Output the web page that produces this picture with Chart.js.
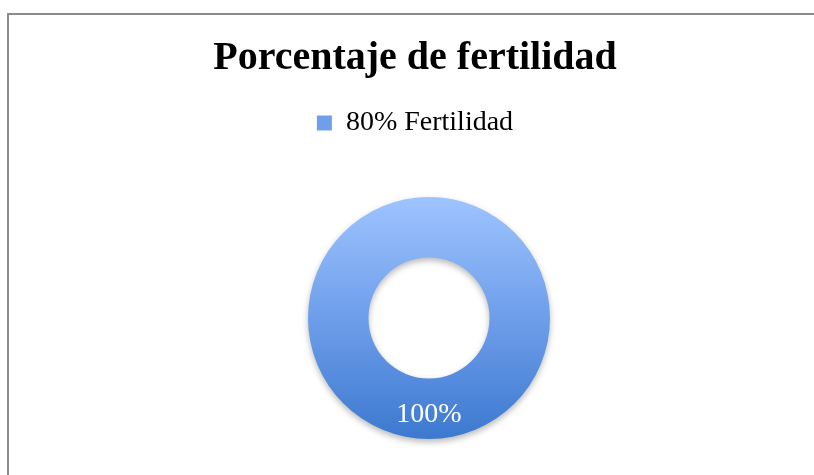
<!DOCTYPE html>
<html>
<head>
<meta charset="utf-8">
<script src="https://cdn.jsdelivr.net/npm/chart.js@4.4.0/dist/chart.umd.min.js"></script>
<style>
  html, body { margin: 0; padding: 0; background: #fff; }
  #frame {
    position: absolute; left: 7px; top: 13px; width: 830px; height: 480px;
    border-top: 2px solid #8c8c8c; border-left: 2px solid #8c8c8c;
  }
  #wrap { position: absolute; left: 0; top: 0; width: 814px; height: 475px; }
</style>
</head>
<body>
<div id="frame"></div>
<div id="wrap"><canvas id="myChart"></canvas></div>
<script>
// Chart data
const titleText = "Porcentaje de fertilidad";
const categories = ["80% Fertilidad"];
const values = [80];

const serif = "'Liberation Serif', 'DejaVu Serif', serif";

// Vertical blue gradient across the ring
function ringGradient(context) {
  const chart = context.chart;
  const area = chart.chartArea;
  if (!area) return "#6f9fea";
  const g = chart.ctx.createLinearGradient(0, area.top, 0, area.bottom);
  g.addColorStop(0, "#9ec4ff");
  g.addColorStop(0.5, "#6e9eea");
  g.addColorStop(1, "#3c79cf");
  return g;
}

// Put the ring where the original sits (centre + radius)
const ringPlacement = {
  id: "ringPlacement",
  afterLayout(chart, args, opts) {
    const a = chart.chartArea;
    a.left = opts.cx - opts.r;
    a.right = opts.cx + opts.r;
    a.top = opts.cy - opts.r;
    a.bottom = opts.cy + opts.r;
    a.width = opts.r * 2;
    a.height = opts.r * 2;
  },
};

// Soft drop shadow under the ring
const ringShadow = {
  id: "ringShadow",
  beforeDatasetDraw(chart) {
    const ctx = chart.ctx;
    ctx.save();
    ctx.shadowColor = "rgba(0,0,0,0.28)";
    ctx.shadowBlur = 6;
    ctx.shadowOffsetY = 3;
  },
  afterDatasetDraw(chart) {
    chart.ctx.restore();
  },
};

// Percentage label on the slice
const sliceLabels = {
  id: "sliceLabels",
  afterDatasetsDraw(chart) {
    const ctx = chart.ctx;
    const data = chart.data.datasets[0].data;
    const total = data.reduce((s, v) => s + v, 0);
    chart.getDatasetMeta(0).data.forEach((arc, i) => {
      const pos = arc.tooltipPosition();
      ctx.save();
      ctx.fillStyle = "#ffffff";
      ctx.font = "28px " + serif;
      ctx.textAlign = "center";
      ctx.textBaseline = "middle";
      ctx.fillText(Math.round((data[i] / total) * 100) + "%", pos.x, pos.y + 6);
      ctx.restore();
    });
  },
};

const ctx = document.getElementById("myChart").getContext("2d");

new Chart(ctx, {
  type: "doughnut",
  data: {
    labels: categories,
    datasets: [
      {
        data: values,
        backgroundColor: ringGradient,
        borderWidth: 0,
        hoverOffset: 0,
      },
    ],
  },
  options: {
    responsive: true,
    maintainAspectRatio: false,
    animation: false,
    cutout: "50%",
    layout: { padding: { left: 16, right: 0, top: 0, bottom: 0 } },
    plugins: {
      ringPlacement: { cx: 429, cy: 318, r: 121 },
      title: {
        display: true,
        text: titleText,
        color: "#000",
        font: { family: serif, size: 40, weight: "bold" },
        padding: { top: 35, bottom: 16 },
      },
      legend: {
        position: "top",
        labels: {
          color: "#000",
          font: { family: serif, size: 28 },
          boxWidth: 15,
          boxHeight: 15,
          generateLabels: (chart) =>
            Chart.overrides.doughnut.plugins.legend.labels
              .generateLabels(chart)
              .map((l) => ({ ...l, fillStyle: "#6f9fea", lineWidth: 0 })),
        },
      },
      tooltip: { enabled: false },
    },
  },
  plugins: [ringPlacement, ringShadow, sliceLabels],
});
</script>
</body>
</html>
